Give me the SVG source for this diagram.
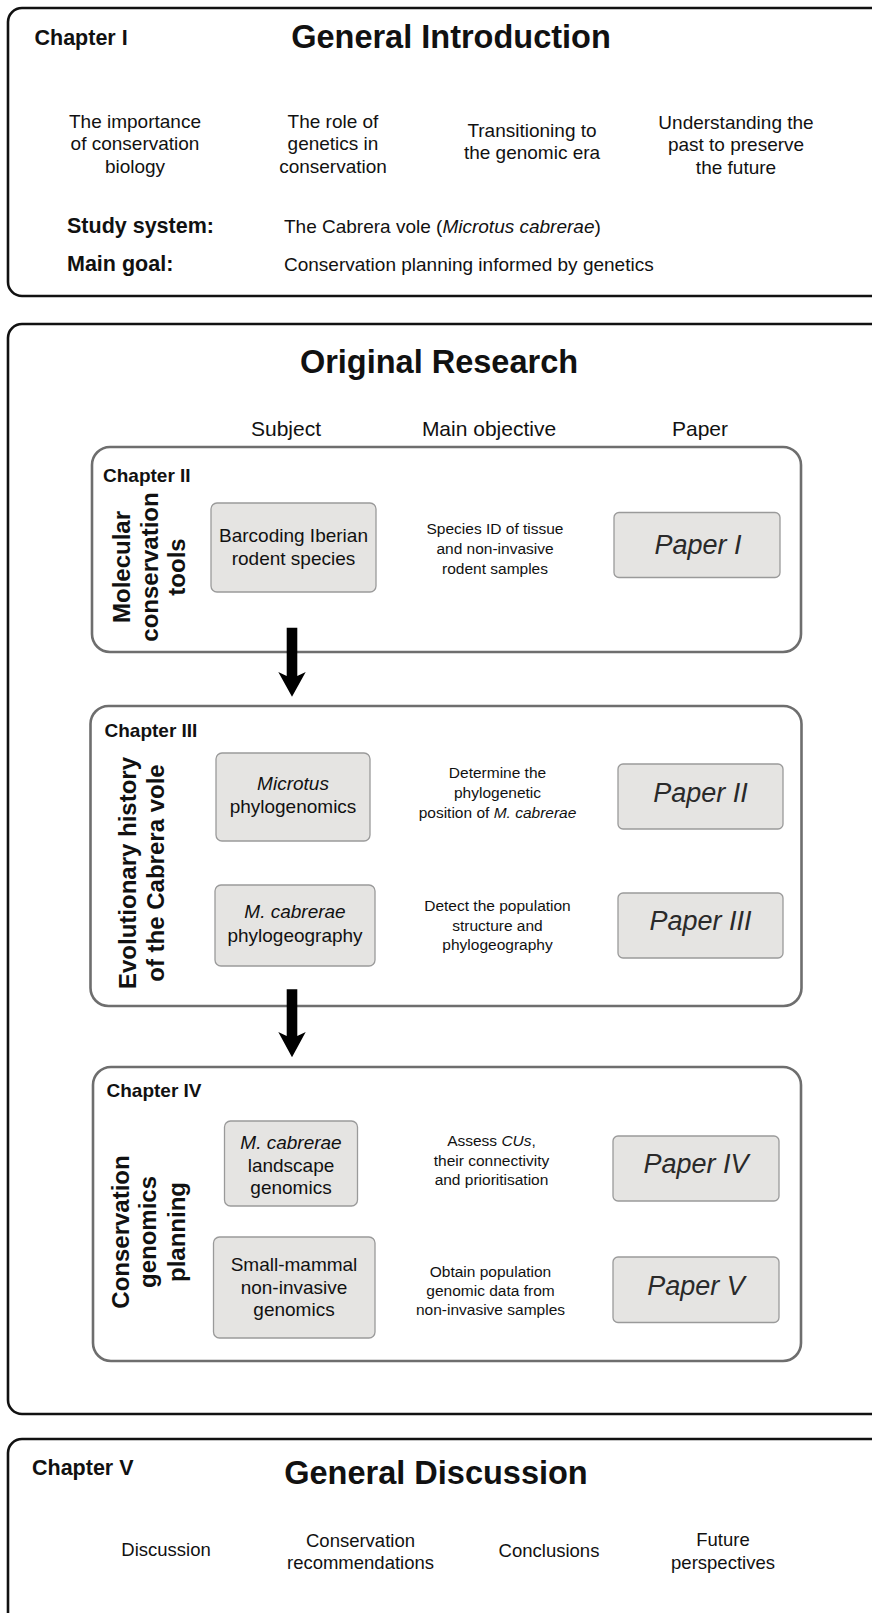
<svg xmlns="http://www.w3.org/2000/svg" width="872" height="1613" viewBox="0 0 872 1613">
<style>
text{font-family:"Liberation Sans",Arial,sans-serif;fill:#111}
.outer{fill:#fff;stroke:#111;stroke-width:2.6}
.sec{fill:#fff;stroke:#6e6e6e;stroke-width:2.6}
.node{fill:#e5e4e2;stroke:#9a9a9a;stroke-width:1.3}
.chapO{font-size:21.5px;font-weight:bold}
.chapI{font-size:19px;font-weight:bold}
.title{font-size:32.5px;font-weight:bold;text-anchor:middle}
.item{font-size:19px;text-anchor:middle}
.hdr{font-size:21px;text-anchor:middle}
.lbl{font-size:21.5px;font-weight:bold}
.body{font-size:19px}
.side{font-size:24px;font-weight:bold;text-anchor:middle}
.subj{font-size:19px;text-anchor:middle}
.obj{font-size:15.5px;text-anchor:middle}
.paper{font-size:27px;font-style:italic;text-anchor:middle;fill:#2a2a2a}
.it{font-style:italic}
.disc{font-size:18.5px;text-anchor:middle}
.arrow{fill:#000}
</style>

<g id="intro">
<rect class="outer" x="8" y="8" width="890" height="288" rx="14"/>
<text class="chapO" x="34.5" y="45">Chapter I</text>
<text class="title" x="451" y="48">General Introduction</text>
<text class="item" x="135" y="127.5">The importance</text>
<text class="item" x="135" y="150">of conservation</text>
<text class="item" x="135" y="172.5">biology</text>
<text class="item" x="333" y="127.5">The role of</text>
<text class="item" x="333" y="150">genetics in</text>
<text class="item" x="333" y="172.5">conservation</text>
<text class="item" x="532" y="136.7">Transitioning to</text>
<text class="item" x="532" y="159.3">the genomic era</text>
<text class="item" x="736" y="128.5">Understanding the</text>
<text class="item" x="736" y="151">past to preserve</text>
<text class="item" x="736" y="173.5">the future</text>
<text class="lbl" x="67" y="233">Study system:</text>
<text class="body" x="284" y="233">The Cabrera vole (<tspan class="it">Microtus cabrerae</tspan>)</text>
<text class="lbl" x="67" y="270.5">Main goal:</text>
<text class="body" x="284" y="270.5">Conservation planning informed by genetics</text>
</g>

<g id="research">
<rect class="outer" x="8" y="324" width="890" height="1090" rx="14"/>
<text class="title" x="439" y="373">Original Research</text>
<text class="hdr" x="286" y="436">Subject</text>
<text class="hdr" x="489" y="436">Main objective</text>
<text class="hdr" x="700" y="436">Paper</text>
</g>

<g id="chapter2">
<rect class="sec" x="92" y="447" width="709" height="205" rx="18"/>
<text class="chapI" x="103" y="482">Chapter II</text>
<text class="side" transform="translate(130,567) rotate(-90)">Molecular</text>
<text class="side" transform="translate(157.5,567) rotate(-90)">conservation</text>
<text class="side" transform="translate(185,567) rotate(-90)">tools</text>
</g>
<g id="subject-barcoding">
<rect class="node" x="211" y="503" width="165" height="89" rx="6"/>
<text class="subj" x="293.5" y="542">Barcoding Iberian</text>
<text class="subj" x="293.5" y="564.5">rodent species</text>
</g>
<g id="objective-1">
<text class="obj" x="495" y="534">Species ID of tissue</text>
<text class="obj" x="495" y="554">and non-invasive</text>
<text class="obj" x="495" y="574">rodent samples</text>
</g>
<g id="paper-1">
<rect class="node" x="614" y="512.5" width="166" height="65" rx="5"/>
<text class="paper" x="698" y="553.5">Paper I</text>
</g>

<g id="chapter3">
<rect class="sec" x="90.5" y="706" width="711" height="300" rx="18"/>
<text class="chapI" x="104.5" y="737">Chapter III</text>
<text class="side" transform="translate(136,873) rotate(-90)">Evolutionary history</text>
<text class="side" transform="translate(163.5,873) rotate(-90)">of the Cabrera vole</text>
</g>
<g id="subject-phylogenomics">
<rect class="node" x="216" y="753" width="154" height="88" rx="6"/>
<text class="subj it" x="293" y="790">Microtus</text>
<text class="subj" x="293" y="813">phylogenomics</text>
</g>
<g id="objective-2">
<text class="obj" x="497.5" y="778">Determine the</text>
<text class="obj" x="497.5" y="798">phylogenetic</text>
<text class="obj" x="497.5" y="818">position of <tspan class="it">M. cabrerae</tspan></text>
</g>
<g id="paper-2">
<rect class="node" x="618" y="764" width="165" height="65" rx="5"/>
<text class="paper" x="700.5" y="802">Paper II</text>
</g>
<g id="subject-phylogeography">
<rect class="node" x="215" y="885" width="160" height="81" rx="6"/>
<text class="subj it" x="295" y="918">M. cabrerae</text>
<text class="subj" x="295" y="941.5">phylogeography</text>
</g>
<g id="objective-3">
<text class="obj" x="497.5" y="911">Detect the population</text>
<text class="obj" x="497.5" y="930.5">structure and</text>
<text class="obj" x="497.5" y="950">phylogeography</text>
</g>
<g id="paper-3">
<rect class="node" x="618" y="893" width="165" height="65" rx="5"/>
<text class="paper" x="700.5" y="930">Paper III</text>
</g>

<g id="chapter4">
<rect class="sec" x="93" y="1067" width="708" height="294" rx="18"/>
<text class="chapI" x="106.5" y="1097">Chapter IV</text>
<text class="side" transform="translate(128.5,1232) rotate(-90)">Conservation</text>
<text class="side" transform="translate(156,1232) rotate(-90)">genomics</text>
<text class="side" transform="translate(185,1232) rotate(-90)">planning</text>
</g>
<g id="subject-landscape">
<rect class="node" x="224.5" y="1121" width="133" height="85" rx="6"/>
<text class="subj it" x="291" y="1148.5">M. cabrerae</text>
<text class="subj" x="291" y="1171.5">landscape</text>
<text class="subj" x="291" y="1194">genomics</text>
</g>
<g id="objective-4">
<text class="obj" x="491.5" y="1145.5">Assess <tspan class="it">CUs</tspan>,</text>
<text class="obj" x="491.5" y="1165.5">their connectivity</text>
<text class="obj" x="491.5" y="1185">and prioritisation</text>
</g>
<g id="paper-4">
<rect class="node" x="613" y="1136" width="166" height="65" rx="5"/>
<text class="paper" x="696" y="1173">Paper IV</text>
</g>
<g id="subject-noninvasive">
<rect class="node" x="213.5" y="1237" width="161.5" height="101" rx="6"/>
<text class="subj" x="294" y="1270.5">Small-mammal</text>
<text class="subj" x="294" y="1293.5">non-invasive</text>
<text class="subj" x="294" y="1316">genomics</text>
</g>
<g id="objective-5">
<text class="obj" x="490.5" y="1276.5">Obtain population</text>
<text class="obj" x="490.5" y="1296">genomic data from</text>
<text class="obj" x="490.5" y="1315">non-invasive samples</text>
</g>
<g id="paper-5">
<rect class="node" x="613" y="1257" width="166" height="65.5" rx="5"/>
<text class="paper" x="696" y="1295">Paper V</text>
</g>

<g id="discussion">
<rect class="outer" x="8" y="1439" width="890" height="200" rx="14"/>
<text class="chapO" x="32" y="1475">Chapter V</text>
<text class="title" x="436" y="1483.5">General Discussion</text>
<text class="disc" x="166" y="1556">Discussion</text>
<text class="disc" x="360.5" y="1547">Conservation</text>
<text class="disc" x="360.5" y="1568.5">recommendations</text>
<text class="disc" x="549" y="1557">Conclusions</text>
<text class="disc" x="723" y="1546">Future</text>
<text class="disc" x="723" y="1568.5">perspectives</text>
</g>

<g id="connectors">
<path class="arrow" d="M286.7,627.7 H297.3 V676 L305.7,672 L292,696.7 L278.3,672 L286.7,676 Z"/>
<path class="arrow" d="M286.7,989.3 H297.3 V1036 L305.7,1032 L292,1057.3 L278.3,1032 L286.7,1036 Z"/>
</g>
</svg>
